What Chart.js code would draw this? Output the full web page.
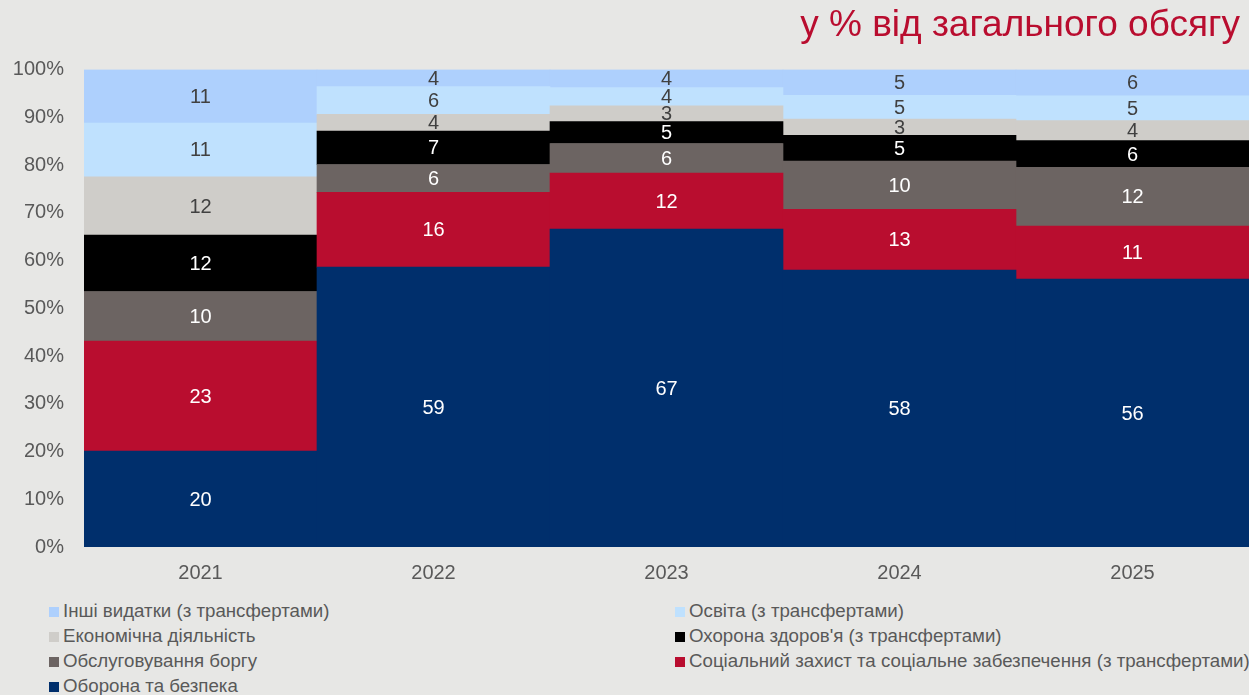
<!DOCTYPE html>
<html lang="uk">
<head>
<meta charset="utf-8">
<script src="https://cdn.jsdelivr.net/npm/chart.js@4.4.1/dist/chart.umd.min.js"></script>
<style>
  body { margin: 0; background: #e7e7e5; font-family: 'Liberation Sans', Arial, sans-serif; }
  #wrap { position: relative; width: 1249px; height: 695px; overflow: hidden; }
  #title { position: absolute; right: 9px; top: 5px; font-size: 37px; line-height: 38px; color: #b90d2f; white-space: nowrap; }
  #box { position: absolute; left: 0; top: 0; width: 1249px; height: 592px; }
  #legend { position: absolute; left: 0; top: 598px; width: 1249px; }
  .item { position: absolute; height: 25px; line-height: 25px; font-size: 18.7px; color: #595959; white-space: nowrap; }
  .item span { display: inline-block; width: 10px; height: 10px; margin-right: 4px; vertical-align: 0px; }
</style>
</head>
<body>
<div id="wrap">
  <div id="box"><canvas id="chart"></canvas></div>
  <div id="title">у % від загального обсягу</div>
  <div id="legend"></div>
</div>
<script>
const years = ['2021', '2022', '2023', '2024', '2025'];
const yTicks = [0, 10, 20, 30, 40, 50, 60, 70, 80, 90, 100];

// частки, % (знизу вгору)
const defence   = [20.1, 58.6, 66.6, 58.0, 56.1];
const social    = [23.0, 15.7, 11.7, 12.7, 11.1];
const debt      = [10.4, 5.8, 6.2, 10.1, 12.3];
const health    = [11.8, 7.0, 4.6, 5.4, 5.6];
const economy   = [12.2, 3.5, 3.3, 3.4, 4.2];
const education = [11.3, 5.8, 3.8, 5.0, 5.2];
const other     = [11.2, 3.6, 3.8, 5.4, 5.5];

const FONT = "'Liberation Sans', Arial, sans-serif";

const datasets = [
    { label: 'Оборона та безпека', data: defence, backgroundColor: '#002f6c', labelColor: '#ffffff' },
    { label: 'Соціальний захист та соціальне забезпечення (з трансфертами)', data: social, backgroundColor: '#b90d2f', labelColor: '#ffffff' },
    { label: 'Обслуговування боргу', data: debt, backgroundColor: '#6c6462', labelColor: '#ffffff' },
    { label: "Охорона здоров'я (з трансфертами)", data: health, backgroundColor: '#000000', labelColor: '#ffffff' },
    { label: 'Економічна діяльність', data: economy, backgroundColor: '#cfcdc9', labelColor: '#404040' },
    { label: 'Освіта (з трансфертами)', data: education, backgroundColor: '#bfe1fe', labelColor: '#404040' },
    { label: 'Інші видатки (з трансфертами)', data: other, backgroundColor: '#aed0fd', labelColor: '#404040' }
];

// підписи значень у центрі сегментів
const segmentLabels = {
    id: 'segmentLabels',
    afterDatasetsDraw(chart) {
        const ctx = chart.ctx;
        ctx.save();
        ctx.font = '20px ' + FONT;
        ctx.textAlign = 'center';
        ctx.textBaseline = 'middle';
        chart.data.datasets.forEach((ds, i) => {
            chart.getDatasetMeta(i).data.forEach((bar, j) => {
                ctx.fillStyle = ds.labelColor;
                ctx.fillText(Math.round(ds.data[j]), bar.x, (bar.y + bar.base) / 2 + 1);
            });
        });
        ctx.restore();
    }
};

const chart = new Chart(document.getElementById('chart'), {
    type: 'bar',
    data: {
        labels: years,
        datasets: datasets.map(d => Object.assign({ borderWidth: 0, barPercentage: 1, categoryPercentage: 1 }, d))
    },
    options: {
        responsive: true,
        maintainAspectRatio: false,
        animation: false,
        layout: { padding: { left: 12, right: 0, top: 69.5, bottom: 7 } },
        plugins: {
            legend: { display: false },
            tooltip: { enabled: false }
        },
        scales: {
            x: {
                stacked: true,
                grid: { display: false, drawTicks: false },
                border: { display: false },
                ticks: { color: '#595959', font: { family: FONT, size: 20 }, padding: 14 },
                afterFit(scale) { scale.height = 38; }
            },
            y: {
                stacked: true,
                min: 0,
                max: 100,
                afterBuildTicks(scale) { scale.ticks = yTicks.map(v => ({ value: v })); },
                grid: { display: false, drawTicks: false },
                border: { display: false },
                ticks: { color: '#595959', font: { family: FONT, size: 20 }, padding: 20, callback: v => v + '%' },
                afterFit(scale) { scale.width = 72; }
            }
        }
    },
    plugins: [segmentLabels]
});

// легенда у два стовпці, зверху вниз
const legend = document.getElementById('legend');
const cols = [49, 675];
chart.data.datasets.slice().reverse().forEach((ds, k) => {
    const item = document.createElement('div');
    item.className = 'item';
    item.style.left = cols[k % 2] + 'px';
    item.style.top = (Math.floor(k / 2) * 25) + 'px';
    item.innerHTML = `<span style="background:${ds.backgroundColor}"></span>${ds.label}`;
    legend.appendChild(item);
});
</script>
</body>
</html>
